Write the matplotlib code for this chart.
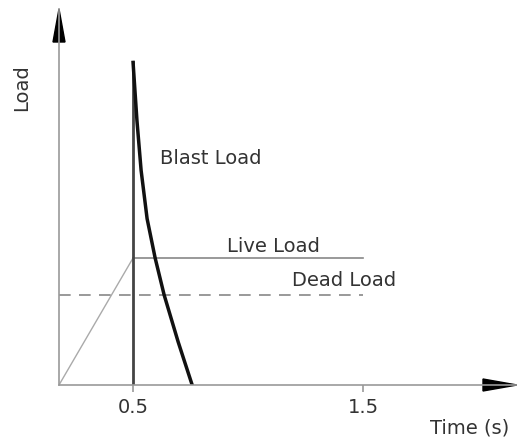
import matplotlib.pyplot as plt
from matplotlib.patches import Polygon

# data (time in s, load in arbitrary units, live load = 1)
t_origin = 0.178
ramp_t = [t_origin, 0.5]
ramp_load = [0.0, 1.0]
live_t = [0.5, 1.5]
live_load = [1.0, 1.0]
dead_t = [t_origin, 1.5]
dead_load = [0.71, 0.71]
blast_t = [0.5, 0.517, 0.535, 0.561, 0.596, 0.635, 0.696, 0.757]
blast_load = [2.54, 2.08, 1.69, 1.31, 1.0, 0.71, 0.34, 0.0]
peak_line_t = [0.5, 0.5]
peak_line_load = [0.0, 2.54]
tick_pos = [0.5, 1.5]
tick_labels = ["0.5", "1.5"]

fs = 14
txt = "#333333"

fig = plt.figure(figsize=(5.17, 4.39), dpi=100)
ax = fig.add_axes([59 / 517, 53 / 439, 458 / 517, 376 / 439])
xmax = t_origin + 458 / 230
ymax = 376 / 127
ax.set_xlim(t_origin, xmax)
ax.set_ylim(0, ymax)

for s in ["top", "right"]:
    ax.spines[s].set_visible(False)
for s in ["left", "bottom"]:
    ax.spines[s].set_color("#999999")
    ax.spines[s].set_linewidth(1.2)

ax.set_yticks([])
ax.set_xticks(tick_pos)
ax.set_xticklabels(tick_labels, fontsize=fs, color=txt)
ax.tick_params(axis="x", length=5, width=1.2, color="#999999", pad=4)

# load curves
ax.plot(ramp_t, ramp_load, color="#aaaaaa", lw=1)
ax.plot(live_t, live_load, color="#888888", lw=1.2)
ax.plot(dead_t, dead_load, color="#888888", lw=1.2, ls=(0, (7, 5)))
ax.plot(peak_line_t, peak_line_load, color="#444444", lw=2)
ax.plot(blast_t, blast_load, color="#111111", lw=2.5)

# arrow heads
xa = Polygon([[xmax, 0], [xmax - 34 / 230, 6 / 127], [xmax - 34 / 230, -6 / 127]],
             closed=True, color="black", clip_on=False)
ya = Polygon([[t_origin, ymax], [t_origin - 6 / 230, ymax - 33 / 127],
              [t_origin + 6 / 230, ymax - 33 / 127]],
             closed=True, color="black", clip_on=False)
ax.add_patch(xa)
ax.add_patch(ya)

# labels
ax.text(0.618, 1.79, "Blast Load", fontsize=fs, color=txt, va="center")
ax.text(0.908, 1.10, "Live Load", fontsize=fs, color=txt, va="center")
ax.text(1.193, 0.83, "Dead Load", fontsize=fs, color=txt, va="center")
fig.text(470 / 517, 1 - 428 / 439, "Time (s)", fontsize=fs, color=txt,
         ha="center", va="center")
fig.text(22 / 517, 1 - 88 / 439, "Load", fontsize=fs, color=txt,
         ha="center", va="center", rotation=90)

fig.savefig("out.png", dpi=100)
